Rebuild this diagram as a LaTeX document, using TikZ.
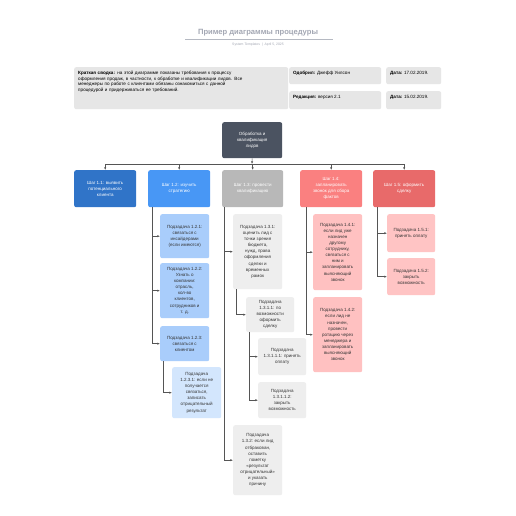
\documentclass[tikz,border=0pt]{standalone}
\usepackage{fontspec}
\setmainfont{Liberation Sans}
\usetikzlibrary{arrows.meta}
\definecolor{cinfo}{HTML}{E6E6E6}
\definecolor{croot}{HTML}{4B5361}
\definecolor{cone}{HTML}{3074C8}
\definecolor{ctwo}{HTML}{4897F5}
\definecolor{cthree}{HTML}{B8B8B8}
\definecolor{cfour}{HTML}{FA8080}
\definecolor{cfive}{HTML}{E86A6A}
\definecolor{subtwo}{HTML}{A9CDFB}
\definecolor{subtwob}{HTML}{D3E6FD}
\definecolor{subthree}{HTML}{EEEEEE}
\definecolor{subfour}{HTML}{FFC1C1}
\definecolor{subfive}{HTML}{FFC4C4}
\definecolor{cline}{HTML}{555555}
\definecolor{ctitle}{HTML}{A3A7B3}
\definecolor{ctext}{HTML}{333333}
\begin{document}
\begin{tikzpicture}[x=1pt,y=-1pt,
  bx/.style={rounded corners=2pt, inner sep=0pt, align=center, anchor=north west,
    font=\fontsize{4.5}{6.1}\selectfont},
  stepbox/.style={bx, text=white},
  subbox/.style={bx, text=ctext},
  infobox/.style={rounded corners=2pt, fill=cinfo, inner sep=0pt, anchor=north west},
  infotext/.style={anchor=north west, inner sep=0pt, align=left, text=black,
    font=\fontsize{4.6}{5.6}\selectfont},
  conn/.style={draw=cline, line width=0.5pt, -{Latex[length=2.6pt,width=2.2pt]}},
  plain/.style={draw=cline, line width=0.5pt}
]
\useasboundingbox[fill=white] (0,0) rectangle (516,516);

% title
\node[font=\fontsize{7.6}{9}\selectfont\bfseries, text=ctitle, inner sep=0pt] (title) at (258,33) {Пример диаграммы процедуры};
\draw[draw=ctitle!80, line width=0.6pt] (185,39.5) -- (333,39.5);
\node[font=\fontsize{3.4}{4}\selectfont, text=ctitle, inner sep=0pt] (subtitle) at (258,44.5) {System Templates \ \textbar\ \ April 5, 2025};

% info boxes
\node[infobox, minimum width=214pt, minimum height=42pt] (sum) at (74,67) {};
\node[infotext, text width=206pt] (sumt) at ([shift={(4,4)}]sum.north west) {\textbf{Краткая сводка:} на этой диаграмме показаны требования к процессу\\оформления продаж, в частности, к обработке и квалификации лидов. Все\\менеджеры по работе с клиентами обязаны ознакомиться с данной\\процедурой и придерживаться ее требований.};
\node[infobox, minimum width=92pt, minimum height=17pt] (appr) at (289,67) {};
\node[infotext] (apprt) at ([shift={(4,4)}]appr.north west) {\textbf{Одобрил:} Джефф Уилсон};
\node[infobox, minimum width=55pt, minimum height=17pt] (dat1) at (386,67) {};
\node[infotext] (dat1t) at ([shift={(4,4)}]dat1.north west) {\textbf{Дата:} 17.02.2019.};
\node[infobox, minimum width=92pt, minimum height=18pt] (rev) at (289,91) {};
\node[infotext] (revt) at ([shift={(4,4)}]rev.north west) {\textbf{Редакция:} версия 2.1};
\node[infobox, minimum width=55pt, minimum height=18pt] (dat2) at (386,91) {};
\node[infotext] (dat2t) at ([shift={(4,4)}]dat2.north west) {\textbf{Дата:} 15.02.2019.};

% root
\node[stepbox, fill=croot, minimum width=60pt, minimum height=36pt] (root) at (222,122) {Обработка и\\квалификация\\лидов};

% steps
\node[stepbox, fill=cone, minimum width=62pt, minimum height=37pt] (s11) at (74,170) {Шаг 1.1: выявить\\потенциального\\клиента};
\node[stepbox, fill=ctwo, minimum width=62pt, minimum height=37pt] (s12) at (148,170) {Шаг 1.2: изучить\\стратегию};
\node[stepbox, fill=cthree, minimum width=61pt, minimum height=37pt] (s13) at (222,170) {Шаг 1.3: провести\\квалификацию};
\node[stepbox, fill=cfour, minimum width=62pt, minimum height=37pt] (s14) at (300,170) {Шаг 1.4:\\запланировать\\звонок для сбора\\фактов};
\node[stepbox, fill=cfive, minimum width=62pt, minimum height=37pt] (s15) at (373,170) {Шаг 1.5: оформить\\сделку};

% bus
\coordinate (bus) at (252,164);
\draw[conn] (root.south) -- (bus);
\draw[plain] (s11.north |- bus) -- (s15.north |- bus);
\foreach \s in {s11,s12,s13,s14,s15} \draw[conn] (\s.north |- bus) -- (\s.north);

% 1.2 subtasks
\node[subbox, fill=subtwo, minimum width=49pt, minimum height=44pt] (n121) at (160,214) {Подзадача 1.2.1:\\связаться с\\инсайдерами\\(если имеются)};
\node[subbox, fill=subtwo, minimum width=49pt, minimum height=55pt] (n122) at (160,263) {Подзадача 1.2.2:\\Узнать о\\компании:\\отрасль,\\кол-во\\клиентов,\\сотрудников и\\т. д.};
\node[subbox, fill=subtwo, minimum width=49pt, minimum height=35pt] (n123) at (160,326) {Подзадача 1.2.3:\\связаться с\\клиентом};
\node[subbox, fill=subtwob, minimum width=49pt, minimum height=51pt] (n1231) at (172,367) {Подзадача\\1.2.3.1: если не\\получается\\связаться,\\записать\\отрицательный\\результат};
\draw[conn] ([xshift=4pt]s12.south west) |- (n121.west);
\draw[conn] ([xshift=4pt]s12.south west) |- (n122.west);
\draw[conn] ([xshift=4pt]s12.south west) |- (n123.west);
\draw[conn] ([xshift=3pt]n123.south west) |- (n1231.west);

% 1.3 subtasks
\node[subbox, fill=subthree, minimum width=49pt, minimum height=75pt] (n131) at (233,214) {Подзадача 1.3.1:\\оценить лид с\\точки зрения\\бюджета,\\нужд, права\\оформления\\сделки и\\временных\\рамок};
\node[subbox, fill=subthree, minimum width=48pt, minimum height=35pt] (n1311) at (246,297) {Подзадача\\1.3.1.1: по\\возможности\\оформить\\сделку};
\node[subbox, fill=subthree, minimum width=48pt, minimum height=37pt] (n13111) at (258,338) {Подзадача\\1.3.1.1.1: принять\\оплату};
\node[subbox, fill=subthree, minimum width=48pt, minimum height=36pt] (n13112) at (258,382) {Подзадача\\1.3.1.1.2:\\закрыть\\возможность};
\node[subbox, fill=subthree, minimum width=49pt, minimum height=70pt] (n132) at (233,425) {Подзадача\\1.3.2: если лид\\отбракован,\\оставить\\пометку\\«результат\\отрицательный»\\и указать\\причину};
\draw[conn] ([xshift=2pt]s13.south west) |- (n131.west);
\draw[conn] ([xshift=2pt]s13.south west) |- (n132.west);
\draw[conn] ([xshift=3pt]n131.south west) |- (n1311.west);
\draw[conn] ([xshift=3pt]n1311.south west) |- (n13111.west);
\draw[conn] ([xshift=3pt]n1311.south west) |- (n13112.west);

% 1.4 subtasks
\node[subbox, fill=subfour, minimum width=49pt, minimum height=76pt] (n141) at (313,214) {Подзадача 1.4.1:\\если лид уже\\назначен\\другому\\сотруднику,\\связаться с\\ним и\\запланировать\\выясняющий\\звонок};
\node[subbox, fill=subfour, minimum width=49pt, minimum height=75pt] (n142) at (313,297) {Подзадача 1.4.2:\\если лид не\\назначен,\\провести\\ротацию через\\менеджера и\\запланировать\\выясняющий\\звонок};
\draw[conn] ([xshift=6pt]s14.south west) |- (n141.west);
\draw[conn] ([xshift=6pt]s14.south west) |- (n142.west);

% 1.5 subtasks
\node[subbox, fill=subfive, minimum width=48pt, minimum height=38pt] (n151) at (387,214) {Подзадача 1.5.1:\\принять оплату};
\node[subbox, fill=subfive, minimum width=48pt, minimum height=37pt] (n152) at (387,258) {Подзадача 1.5.2:\\закрыть\\возможность};
\draw[conn] ([xshift=4pt]s15.south west) |- (n151.west);
\draw[conn] ([xshift=4pt]s15.south west) |- (n152.west);
\end{tikzpicture}
\end{document}
